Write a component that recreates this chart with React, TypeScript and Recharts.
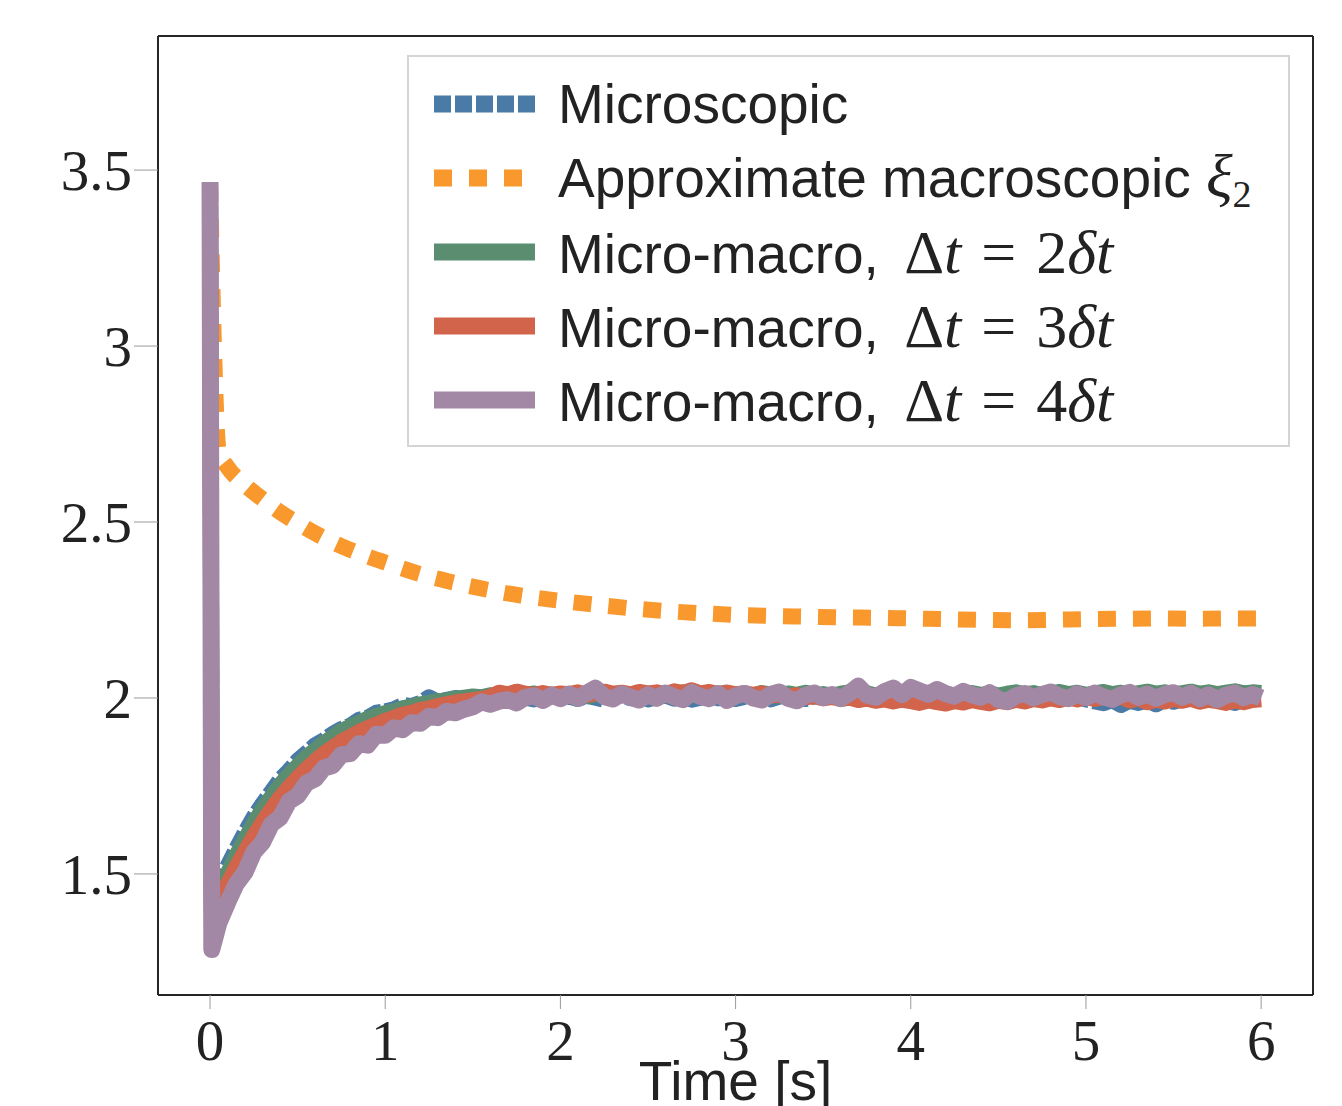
import { LineChart, Line, XAxis, YAxis, ReferenceLine } from 'recharts';

// time grid for the noisy runs (s)
const runTimes = [0, 0.01, ...Array.from({ length: 120 }, (_, i) => +((i + 1) * 0.05).toFixed(2))];

const microscopic = [
  3.46, 1.42,
  1.475, 1.522, 1.571, 1.618, 1.662, 1.699, 1.733, 1.768, 1.793, 1.822,
  1.843, 1.866, 1.880, 1.898, 1.912, 1.921, 1.938, 1.944, 1.958, 1.962,
  1.968, 1.980, 1.977, 1.986, 2.002, 1.989, 1.995, 2.000, 1.997, 2.003,
  2.000, 2.006, 1.998, 2.004, 2.009, 2.001, 1.996, 2.003, 2.007, 1.999,
  2.004, 1.997, 2.006, 2.001, 1.995, 2.003, 2.008, 1.999, 2.004, 1.996,
  2.002, 2.007, 1.998, 2.003, 1.995, 2.001, 2.006, 1.999, 2.004, 1.997,
  2.003, 2.008, 2.000, 1.996, 2.004, 2.009, 2.001, 1.997, 2.005, 2.000,
  2.006, 1.999, 2.003, 2.010, 2.002, 1.997, 2.005, 2.001, 2.008, 2.003,
  1.998, 2.004, 2.012, 2.006, 2.000, 2.015, 2.004, 1.999, 2.007, 2.002,
  2.008, 2.003, 1.997, 2.005, 2.001, 1.995, 2.003, 1.998, 2.004, 1.996,
  1.990, 1.985, 1.994, 1.980, 1.992, 1.986, 1.993, 1.982, 1.995, 1.989,
  1.996, 2.002, 1.993, 1.998, 2.004, 1.991, 1.986, 1.997, 2.001, 1.999,
];

const mm2 = [
  3.46, 1.40,
  1.450, 1.500, 1.552, 1.598, 1.643, 1.684, 1.718, 1.752, 1.781, 1.806,
  1.832, 1.851, 1.872, 1.888, 1.906, 1.918, 1.929, 1.941, 1.949, 1.957,
  1.962, 1.971, 1.975, 1.982, 1.986, 1.991, 1.993, 1.998, 2.001, 2.004,
  2.002, 2.008, 2.005, 2.011, 2.004, 2.009, 2.013, 2.006, 2.010, 2.004,
  2.008, 2.012, 2.005, 2.010, 2.014, 2.007, 2.011, 2.006, 2.012, 2.009,
  2.013, 2.007, 2.011, 2.016, 2.008, 2.012, 2.006, 2.010, 2.015, 2.009,
  2.012, 2.007, 2.014, 2.010, 2.006, 2.013, 2.009, 2.015, 2.008, 2.011,
  2.006, 2.012, 2.016, 2.009, 2.013, 2.007, 2.011, 2.014, 2.008, 2.012,
  2.010, 2.015, 2.008, 2.012, 2.006, 2.011, 2.014, 2.009, 2.013, 2.007,
  2.012, 2.016, 2.010, 2.014, 2.008, 2.013, 2.017, 2.011, 2.015, 2.009,
  2.013, 2.017, 2.011, 2.015, 2.009, 2.014, 2.018, 2.012, 2.016, 2.010,
  2.014, 2.018, 2.012, 2.016, 2.011, 2.015, 2.019, 2.013, 2.016, 2.014,
];

const mm3 = [
  3.46, 1.39,
  1.420, 1.470, 1.518, 1.563, 1.606, 1.645, 1.683, 1.716, 1.745, 1.772,
  1.797, 1.820, 1.841, 1.858, 1.876, 1.889, 1.903, 1.914, 1.924, 1.935,
  1.943, 1.953, 1.958, 1.966, 1.970, 1.977, 1.982, 1.987, 1.990, 1.994,
  1.997, 2.003, 2.015, 2.010, 2.018, 2.012, 2.008, 2.014, 2.009, 2.013,
  2.011, 2.016, 2.009, 2.014, 2.018, 2.012, 2.015, 2.010, 2.017, 2.013,
  2.016, 2.011, 2.019, 2.014, 2.022, 2.013, 2.017, 2.011, 2.015, 2.010,
  2.014, 2.009, 2.013, 2.006, 2.010, 2.004, 2.008, 2.002, 2.005, 1.999,
  2.003, 1.997, 2.001, 1.994, 1.998, 1.992, 1.996, 1.990, 1.995, 1.991,
  1.986, 1.993, 1.988, 1.984, 1.991, 1.987, 1.994, 1.989, 1.985, 1.992,
  1.988, 1.995, 1.990, 1.997, 1.993, 1.999, 1.994, 2.001, 1.996, 2.002,
  1.997, 2.003, 1.998, 2.004, 1.993, 1.999, 1.988, 1.995, 1.990, 1.997,
  1.992, 1.998, 1.989, 1.995, 1.991, 1.986, 1.993, 1.988, 1.994, 1.996,
];

const mm4 = [
  3.466, 1.285,
  1.360, 1.418, 1.472, 1.505, 1.562, 1.590, 1.641, 1.660, 1.706, 1.722,
  1.758, 1.770, 1.801, 1.808, 1.839, 1.842, 1.870, 1.866, 1.897, 1.894,
  1.915, 1.910, 1.930, 1.928, 1.948, 1.944, 1.962, 1.958, 1.968, 1.975,
  1.989, 1.982, 1.991, 1.995, 1.986, 2.002, 2.006, 1.993, 2.008, 1.998,
  2.011, 1.999, 2.014, 2.028, 2.004, 1.997, 2.012, 2.002, 1.994, 2.009,
  1.999, 2.014, 2.003, 1.995, 2.016, 2.004, 1.998, 2.012, 1.993, 2.006,
  2.013, 2.000, 1.994, 2.010, 2.017, 1.999, 1.992, 2.008, 2.014, 2.001,
  2.010, 1.998, 2.014, 2.034, 2.008, 2.002, 2.018, 2.028, 2.009, 2.030,
  2.020, 2.010, 2.024, 2.012, 2.005, 2.019, 2.009, 2.002, 2.015, 1.996,
  1.990, 2.006, 2.013, 2.000, 2.010, 2.017, 2.004, 1.998, 2.012, 2.001,
  2.014, 2.003, 1.996, 2.009, 2.016, 2.002, 2.011, 1.999, 2.010, 2.015,
  2.002, 2.013, 1.998, 2.009, 1.995, 2.008, 2.014, 2.001, 2.010, 2.000,
];

// approximate macroscopic model (smooth)
const macroTimes = [0, 0.05, 0.1, 0.2, 0.3, 0.4, 0.5, 0.6, 0.7, 0.8, 0.9, 1.0, 1.2, 1.4, 1.6, 1.8, 2.0, 2.2, 2.4, 2.6, 2.8, 3.0, 3.2, 3.4, 3.6, 3.8, 4.0, 4.2, 4.4, 4.6, 4.8, 5.0, 5.2, 5.4, 5.6, 5.8, 6.0];
const macro = [3.46, 2.70, 2.656, 2.605, 2.565, 2.528, 2.497, 2.468, 2.443, 2.421, 2.402, 2.385, 2.352, 2.327, 2.306, 2.289, 2.276, 2.265, 2.255, 2.247, 2.241, 2.236, 2.233, 2.231, 2.229, 2.228, 2.226, 2.224, 2.222, 2.221, 2.222, 2.224, 2.225, 2.226, 2.225, 2.226, 2.226];

const xTicks = [0, 1, 2, 3, 4, 5, 6];
const yTicks = [1.5, 2, 2.5, 3, 3.5];

const toPoints = (ts: number[], vs: number[]) => ts.map((t, i) => ({ t, v: vs[i] }));

const BLUE = '#4a7aa6';
const ORANGE = '#f8982d';
const GREEN = '#5b8e70';
const RED = '#d1644a';
const PURPLE = '#a388a6';

const xDomain = [-0.297, 6.296];
const yDomain = [1.156, 3.881];
const frame = { stroke: '#262626', strokeWidth: 2 };
const tickFont = { fontFamily: 'Liberation Serif', fontSize: 57, fill: '#222' };

const mathStyle = { fontFamily: 'Liberation Serif', fontSize: 62 };
const it = { fontStyle: 'italic' as const };

const dtLabel = (n: number) => (
  <>
    Micro-macro,{' '}
    <span style={{ ...mathStyle, marginLeft: 10 }}>
      Δ<span style={it}>t</span>
      <span style={{ margin: '0 20px' }}>=</span>
      {n}
      <span style={it}>δt</span>
    </span>
  </>
);

const legendRows = [
  { label: <>Microscopic</>, color: BLUE, dash: '17 4' },
  {
    label: (
      <>
        Approximate macroscopic{' '}
        <span style={mathStyle}>
          <span style={it}>ξ</span>
          <sub style={{ fontSize: 38, verticalAlign: -10 }}>2</sub>
        </span>
      </>
    ),
    color: ORANGE,
    dash: '18 17',
  },
  { label: dtLabel(2), color: GREEN, dash: undefined },
  { label: dtLabel(3), color: RED, dash: undefined },
  { label: dtLabel(4), color: PURPLE, dash: undefined },
];

const LegendBox = () => (
  <div
    style={{
      position: 'absolute',
      left: 407,
      top: 55,
      width: 879,
      height: 378,
      border: '2px solid #d4d4d4',
      background: '#fff',
      paddingTop: 10,
      boxSizing: 'content-box',
    }}
  >
    {legendRows.map((r, i) => (
      <div key={i} style={{ height: 74, display: 'flex', alignItems: 'center' }}>
        <svg width={101} height={20} style={{ marginLeft: 25, marginRight: 23 }}>
          <line x1={0} x2={101} y1={10} y2={10} stroke={r.color} strokeWidth={17} strokeDasharray={r.dash} />
        </svg>
        <span style={{ fontFamily: 'Liberation Sans', fontSize: 55, color: '#222', whiteSpace: 'nowrap' }}>{r.label}</span>
      </div>
    ))}
  </div>
);

const App = () => {
  return (
    <div style={{ position: 'fixed', left: 0, top: 0, width: 1342, height: 1106, overflow: 'hidden', background: '#fff' }}>
      <LineChart width={1342} height={1106} margin={{ top: 36, right: 29, bottom: 0, left: 0 }}>
        <XAxis
          dataKey="t"
          type="number"
          domain={xDomain}
          ticks={xTicks}
          height={111}
          tickSize={14}
          tickMargin={11}
          tick={tickFont}
          tickLine={{ stroke: '#999', strokeWidth: 1 }}
          axisLine={frame}
          label={{ value: 'Time [s]', position: 'insideBottom', offset: 6, style: { fontFamily: 'Liberation Sans', fontSize: 55, fill: '#222' } }}
        />
        <YAxis
          type="number"
          domain={yDomain}
          ticks={yTicks}
          width={158}
          tickSize={24}
          tickMargin={2}
          tick={tickFont}
          tickLine={{ stroke: '#999', strokeWidth: 1 }}
          axisLine={frame}
        />
        <ReferenceLine y={yDomain[1]} stroke="#262626" strokeWidth={2} />
        <ReferenceLine x={xDomain[1]} stroke="#262626" strokeWidth={2} />
        <Line data={toPoints(runTimes, microscopic)} dataKey="v" type="linear" stroke={BLUE} strokeWidth={16} strokeDasharray="17 4" strokeLinejoin="round" dot={false} isAnimationActive={false} />
        <Line data={toPoints(macroTimes, macro)} dataKey="v" type="monotone" stroke={ORANGE} strokeWidth={16} strokeDasharray="18 17" dot={false} isAnimationActive={false} />
        <Line data={toPoints(runTimes, mm2)} dataKey="v" type="linear" stroke={GREEN} strokeWidth={16} strokeLinejoin="round" dot={false} isAnimationActive={false} />
        <Line data={toPoints(runTimes, mm3)} dataKey="v" type="linear" stroke={RED} strokeWidth={16} strokeLinejoin="round" dot={false} isAnimationActive={false} />
        <Line data={toPoints(runTimes, mm4)} dataKey="v" type="linear" stroke={PURPLE} strokeWidth={17} strokeLinejoin="round" dot={false} isAnimationActive={false} />
      </LineChart>
      <LegendBox />
    </div>
  );
};

export default App;
